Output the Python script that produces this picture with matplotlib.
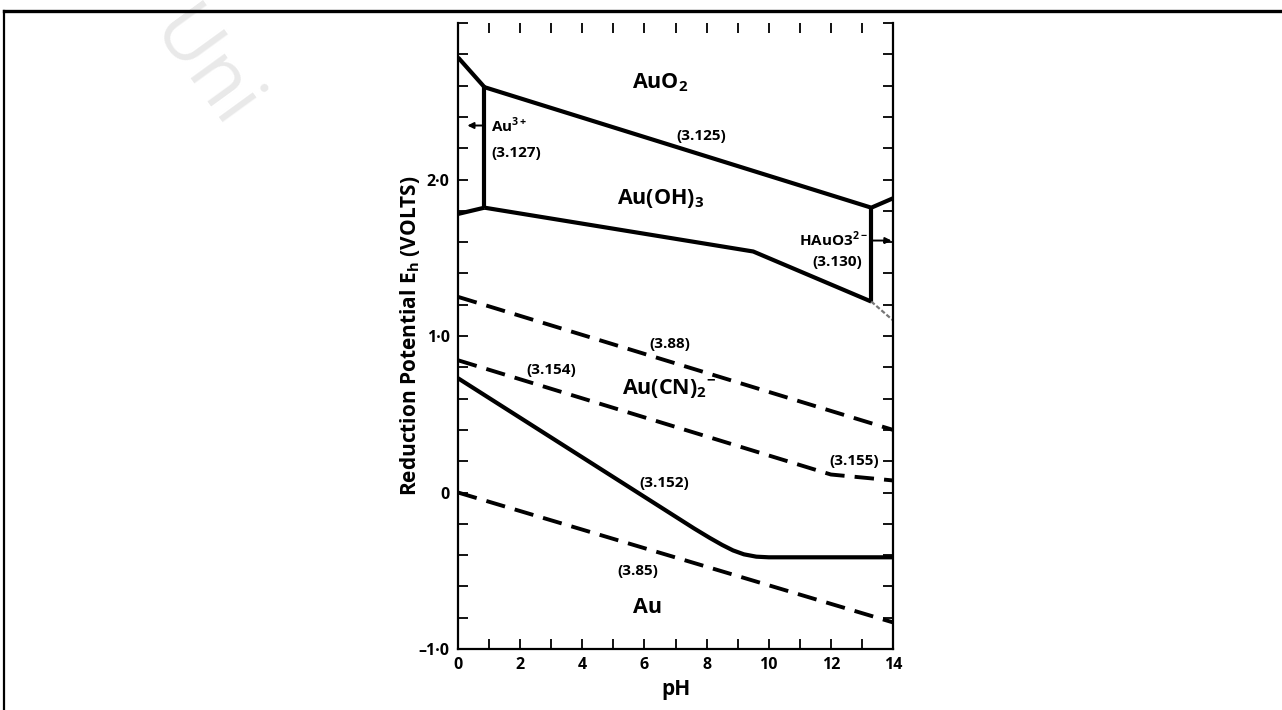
import numpy as np
import matplotlib
matplotlib.use("Agg")
import matplotlib.pyplot as plt
from matplotlib.lines import Line2D

plt.rcParams['font.family'] = ['Open Sans', 'DejaVu Sans']
plt.rcParams['mathtext.fontset'] = 'custom'
plt.rcParams['mathtext.rm'] = 'Open Sans'
plt.rcParams['mathtext.bf'] = 'Open Sans:bold'

# --- stability field boundaries (pH, Eh volts) ---
au3_auo2_ph = [0.0, 0.85]
au3_auo2_eh = [2.78, 2.59]

b3125_ph = [0.85, 13.3, 14.0]
b3125_eh = [2.59, 1.82, 1.88]

au3_vert_ph = [0.85, 0.85]
au3_vert_eh = [2.59, 1.82]

au3_au_ph = [0.0, 0.85]
au3_au_eh = [1.78, 1.82]

auoh3_low_ph = [0.85, 9.5, 13.3]
auoh3_low_eh = [1.82, 1.54, 1.22]

hauo3_vert_ph = [13.3, 13.3]
hauo3_vert_eh = [1.82, 1.22]

hauo3_tail_ph = [13.3, 14.0]
hauo3_tail_eh = [1.22, 1.10]

b3152_ph = [0.0, 7.6, 8.1, 8.5, 8.85, 9.2, 9.6, 10.0, 14.0]
b3152_eh = [0.73, -0.23, -0.29, -0.335, -0.37, -0.395, -0.41, -0.414, -0.414]

# dashed lines
b388_ph = [0.0, 14.0]
b388_eh = [1.25, 0.40]

b3154_ph = [0.0, 12.0, 14.0]
b3154_eh = [0.845, 0.115, 0.077]

b385_ph = [0.0, 14.0]
b385_eh = [0.0, -0.83]

xtick_vals = list(range(0, 15))
xtick_text = [str(v) if v % 2 == 0 else '' for v in xtick_vals]
ytick_vals = [round(-1 + 0.2 * i, 1) for i in range(21)]
ytick_names = {-1.0: '\u20131\u00b70', 0.0: '0', 1.0: '1\u00b70', 2.0: '2\u00b70'}

fig = plt.figure(figsize=(12.82, 7.10), dpi=100)
ax = fig.add_axes([0.3573, 0.0859, 0.3393, 0.8817])

solid = dict(color='black', lw=3.0, solid_capstyle='butt', solid_joinstyle='miter')
dashed = dict(color='black', lw=2.8, linestyle=(0, (5, 2.6)))

ax.plot(au3_auo2_ph, au3_auo2_eh, **solid)
ax.plot(b3125_ph, b3125_eh, **solid)
ax.plot(au3_vert_ph, au3_vert_eh, **solid)
ax.plot(au3_au_ph, au3_au_eh, **solid)
ax.plot(auoh3_low_ph, auoh3_low_eh, **solid)
ax.plot(hauo3_vert_ph, hauo3_vert_eh, **solid)
ax.plot(hauo3_tail_ph, hauo3_tail_eh, color='#777777', lw=1.6, linestyle=(0, (2, 1)))
ax.plot(b3152_ph, b3152_eh, **dict(solid, solid_joinstyle='round'))

ax.plot(b388_ph, b388_eh, **dashed)
ax.plot(b3154_ph, b3154_eh, **dashed)
ax.plot(b385_ph, b385_eh, **dashed)

# arrows
arr = dict(arrowstyle='-|>', color='black', lw=1.4, mutation_scale=9, shrinkA=0, shrinkB=0)
ax.annotate('', xy=(0.30, 2.345), xytext=(0.85, 2.345), arrowprops=arr)
ax.annotate('', xy=(13.95, 1.61), xytext=(13.3, 1.61), arrowprops=arr)

# region and reaction labels
big = dict(fontsize=15.5, fontweight='bold', ha='center', va='center')
small = dict(fontsize=11, fontweight='bold', ha='center', va='center')
ax.text(6.52, 2.62, r'AuO$_\mathbf{2}$', **big)
ax.text(6.52, 1.88, r'Au(OH)$_\mathbf{3}$', **big)
ax.text(6.8, 0.665, r'Au(CN)$_\mathbf{2}$$^\mathbf{-}$', **big)
ax.text(6.11, -0.735, 'Au', **big)

ax.text(7.84, 2.28, '(3.125)', **small)
ax.text(1.06, 2.345, r'Au$^\mathbf{3+}$', fontsize=11, fontweight='bold', ha='left', va='center')
ax.text(1.06, 2.17, '(3.127)', fontsize=11, fontweight='bold', ha='left', va='center')
ax.text(13.2, 1.62, r'HAuO3$^\mathbf{2-}$', fontsize=11, fontweight='bold', ha='right', va='center')
ax.text(12.2, 1.47, '(3.130)', **small)
ax.text(6.82, 0.95, '(3.88)', **small)
ax.text(3.0, 0.78, '(3.154)', **small)
ax.text(12.75, 0.204, '(3.155)', **small)
ax.text(6.63, 0.058, '(3.152)', **small)
ax.text(5.79, -0.50, '(3.85)', **small)

ax.set_xlim(0, 14)
ax.set_ylim(-1, 3)
ax.set_xticks(xtick_vals)
ax.set_xticklabels(xtick_text)
ax.set_yticks(ytick_vals)
ax.set_yticklabels([ytick_names.get(v, '') for v in ytick_vals])
for lab in ax.get_xticklabels() + ax.get_yticklabels():
    lab.set_fontweight('bold')
    lab.set_fontsize(11.5)

ax.tick_params(direction='in', length=7, width=1.3, top=True, right=True,
               bottom=True, left=True, pad=6)
ax.spines['top'].set_visible(False)
for s in ['left', 'right', 'bottom']:
    ax.spines[s].set_linewidth(1.6)

ax.set_xlabel('pH', fontsize=15, fontweight='bold', labelpad=4)
ax.set_ylabel(r'Reduction Potential E$_\mathbf{h}$ (VOLTS)', fontsize=15,
              fontweight='bold', labelpad=-2)

# outer frame (top and left edges of the scan)
fig.add_artist(Line2D([4 / 1282, 1.0], [1 - 11 / 710, 1 - 11 / 710],
                      color='black', lw=2.4, transform=fig.transFigure))
fig.add_artist(Line2D([4 / 1282, 4 / 1282], [0.0, 1 - 11 / 710],
                      color='black', lw=1.6, transform=fig.transFigure))

# faint watermark
fig.text(0.158, 0.90, 'Uni', fontsize=56, color='#e9e9e9', rotation=-54,
         ha='center', va='center', zorder=-1)

fig.savefig('out.png', dpi=100)
